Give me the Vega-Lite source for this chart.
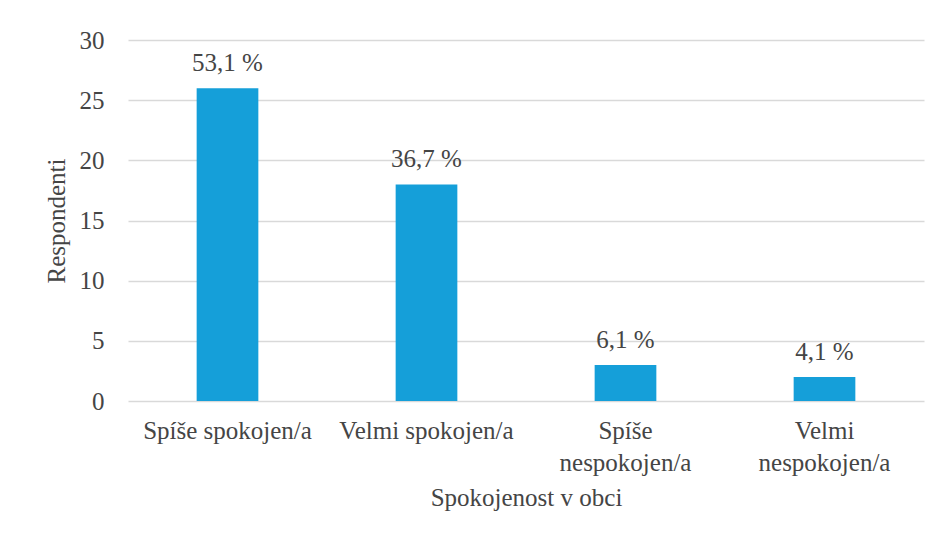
{
  "$schema": "https://vega.github.io/schema/vega-lite/v6.json",
  "autosize": {"type": "none"},
  "width": 796,
  "height": 361,
  "padding": {"left": 128, "top": 40, "right": 13, "bottom": 139},
  "background": "white",
  "config": {
    "font": "Liberation Serif",
    "view": {"stroke": null},
    "axis": {"labelFont": "Liberation Serif", "titleFont": "Liberation Serif", "labelColor": "#454545", "titleColor": "#454545", "titleFontWeight": "normal"}
  },
  "data": {
    "values": [
      {"kategorie": "Spíše spokojen/a", "respondenti": 26, "podil": "53,1 %"},
      {"kategorie": "Velmi spokojen/a", "respondenti": 18, "podil": "36,7 %"},
      {"kategorie": "Spíše nespokojen/a", "respondenti": 3, "podil": "6,1 %"},
      {"kategorie": "Velmi nespokojen/a", "respondenti": 2, "podil": "4,1 %"}
    ]
  },
  "encoding": {
    "x": {
      "field": "kategorie",
      "type": "nominal",
      "sort": null,
      "scale": {"paddingInner": 0.69, "paddingOuter": 0.345},
      "axis": {
        "title": "Spokojenost v obci",
        "labelAngle": 0,
        "labelFontSize": 25,
        "titleFontSize": 25,
        "labelPadding": 17,
        "labelLineHeight": 32,
        "titlePadding": 10,
        "domain": false,
        "ticks": false,
        "labelExpr": "datum.value == 'Spíše nespokojen/a' ? ['Spíše', 'nespokojen/a'] : datum.value == 'Velmi nespokojen/a' ? ['Velmi', 'nespokojen/a'] : datum.value"
      }
    },
    "y": {
      "field": "respondenti",
      "type": "quantitative",
      "scale": {"domain": [0, 30], "nice": false},
      "axis": {
        "title": "Respondenti",
        "values": [0, 5, 10, 15, 20, 25, 30],
        "labelFontSize": 25,
        "titleFontSize": 25,
        "labelPadding": 24,
        "titlePadding": 10,
        "domain": false,
        "ticks": false,
        "gridColor": "#d9d9d9",
        "gridWidth": 1.3
      }
    }
  },
  "layer": [
    {"mark": {"type": "bar", "color": "#159fd9"}},
    {
      "mark": {"type": "text", "baseline": "alphabetic", "dy": -17, "fontSize": 25, "color": "#454545", "font": "Liberation Serif"},
      "encoding": {"text": {"field": "podil"}}
    }
  ]
}
